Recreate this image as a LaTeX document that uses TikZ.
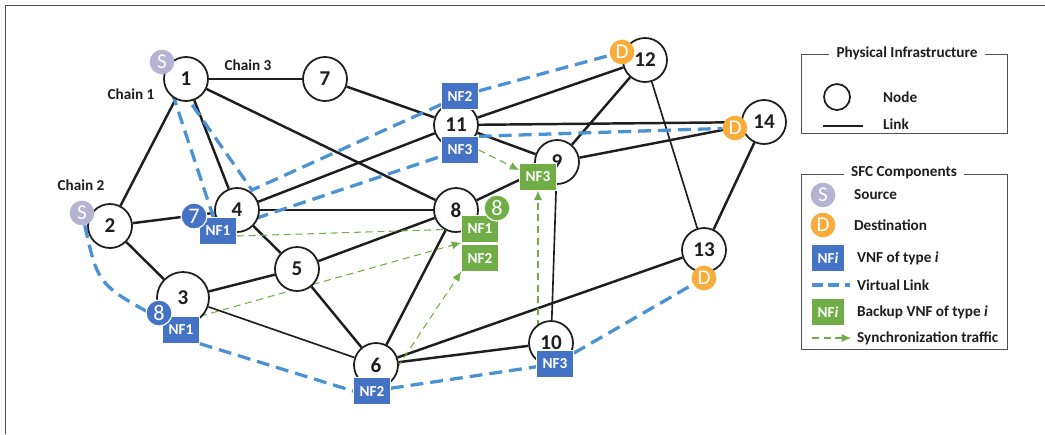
\documentclass[tikz,border=0pt]{standalone}
\usepackage{fontspec}
\setmainfont{Carlito}
\usepackage{xcolor}
\usepackage{tikz}
\usetikzlibrary{arrows.meta}

\definecolor{vnfblue}{RGB}{68,114,196}
\definecolor{bakgreen}{RGB}{112,173,71}
\definecolor{vlinkblue}{RGB}{74,146,212}
\definecolor{srcgray}{RGB}{182,178,210}
\definecolor{dstorange}{RGB}{248,172,58}
\definecolor{framegray}{RGB}{80,80,80}
\definecolor{txtdark}{RGB}{30,30,30}

\pgfdeclarelayer{bg}
\pgfsetlayers{bg,main}

\begin{document}
\begin{tikzpicture}[x=0.03cm, y=-0.03cm,
        phys/.style={circle, draw=txtdark, line width=1.5pt, fill=white, inner sep=0pt, minimum size=1.32cm, text=txtdark, font=\fontsize{18}{18}\selectfont\bfseries},
        link/.style={draw=txtdark, line width=2.1pt},
        thinlink/.style={draw=txtdark, line width=1.4pt},
        vnf/.style={rectangle, fill=vnfblue, draw=white, line width=0.6pt, text=white, inner sep=0pt, minimum width=1.11cm, minimum height=0.8cm, font=\fontsize{13}{13}\selectfont\bfseries},
        bak/.style={vnf, fill=bakgreen},
        src/.style={circle, fill=srcgray, text=white, inner sep=0pt, minimum size=0.74cm, font=\fontsize{18}{18}\selectfont},
        dst/.style={src, fill=dstorange},
        badge/.style={circle, fill=vnfblue, draw=white, line width=1pt, text=white, inner sep=0pt, minimum size=0.78cm, font=\fontsize{19}{19}\selectfont},
        vlink/.style={draw=vlinkblue, line width=2.8pt, dash pattern=on 11pt off 6pt},
        sync/.style={draw=bakgreen, line width=0.9pt, dash pattern=on 6pt off 4pt, -{Latex[length=8pt,width=7pt]}},
        lbl/.style={text=txtdark, font=\fontsize{13}{13}\selectfont\bfseries},
    ]
        \useasboundingbox (0,0) rectangle (1045,434);
        \draw[framegray, line width=0.8pt] (5,434) -- (5,5) -- (1045,5);

        % physical nodes
        \node (n1)  at (186,79)  [phys] {1};
        \node (n2)  at (110,226) [phys] {2};
        \node (n3)  at (183,298) [phys, minimum size=1.56cm] {3};
        \node (n4)  at (237,210) [phys] {4};
        \node (n5)  at (297,269) [phys] {5};
        \node (n6)  at (376,365) [phys] {6};
        \node (n7)  at (325,79)  [phys] {7};
        \node (n8)  at (456,210) [phys] {8};
        \node (n9)  at (557,162) [phys] {9};
        \node (n10) at (551,343) [phys] {10};
        \node (n11) at (456,125) [phys] {11};
        \node (n12) at (645,60)  [phys] {12};
        \node (n13) at (704,250) [phys] {13};
        \node (n14) at (764,122) [phys] {14};

        % sources and destinations
        \node (s1)  at (162,62)  [src] {S};
        \node (s2)  at (82,213)  [src] {S};
        \node (d12) at (622,52)  [dst] {D};
        \node (d14) at (735,128) [dst] {D};
        \node (d13) at (704,278) [dst] {D};

        % VNFs
        \node (nf1at4)  at (218,231) [vnf] {NF1};
        \node (nf1at3)  at (181,330) [vnf] {NF1};
        \node (nf2at6)  at (372,391) [vnf] {NF2};
        \node (nf2at11) at (460,96)  [vnf] {NF2};
        \node (nf3at11) at (460,150) [vnf] {NF3};
        \node (nf3at10) at (555,364) [vnf] {NF3};
        \node (bk1at8)  at (480,229) [bak] {NF1};
        \node (bk2at8)  at (480,258) [bak] {NF2};
        \node (bk3at9)  at (538,177) [bak] {NF3};
        \node (b7)      at (194,216) [badge] {7};
        \node (b8)      at (159,313) [badge] {8};
        \node (g8)      at (497,208) [badge, fill=bakgreen] {8};

        \node (ch1) at (131,94)  [lbl] {Chain 1};
        \node (ch2) at (81,185)  [lbl] {Chain 2};
        \node (ch3) at (248,65)  [lbl] {Chain 3};
        \coordinate (c3) at (252,190);

        \begin{pgfonlayer}{bg}
            % links
            \draw[link]     (n1)  -- (n7);
            \draw[link]     (n1)  -- (n8);
            \draw[link]     (n1)  -- (n4);
            \draw[link]     (n1)  -- (n2);
            \draw[link]     (n2)  -- (n4);
            \draw[link]     (n2)  -- (n3);
            \draw[link]     (n3)  -- (n5);
            \draw[thinlink] (n3)  -- (n6);
            \draw[link]     (n4)  -- (n5);
            \draw[link]     (n4)  -- (n8);
            \draw[link]     (n4)  -- (n11);
            \draw[link]     (n5)  -- (n8);
            \draw[link]     (n5)  -- (n6);
            \draw[link]     (n6)  -- (n8);
            \draw[link]     (n6)  -- (n10);
            \draw[link]     (n6)  -- (n13);
            \draw[link]     (n7)  -- (n11);
            \draw[link]     (n11) -- (n12);
            \draw[link]     (n11) -- (n14);
            \draw[link]     (n11) -- (n9);
            \draw[link]     (n8)  -- (n9);
            \draw[link]     (n9)  -- (n12);
            \draw[link]     (n9)  -- (n14);
            \draw[thinlink] (n9)  -- (n10);
            \draw[thinlink] (n12) -- (n13);
            \draw[link]     (n13) -- (n14);

            % virtual links
            \draw[vlink] (s1) -- (nf1at4);
            \draw[vlink] (nf1at4) -- (nf3at11);
            \draw[vlink] (nf3at11.north east) -- (d14);
            \draw[vlink] (s1) -- (c3) -- (nf2at11);
            \draw[vlink] (nf2at11) -- (d12);
            \draw[vlink] (s2) .. controls (98,285) .. (nf1at3);
            \draw[vlink] (nf1at3.south east) -- (nf2at6.west);
            \draw[vlink] (nf2at6) -- (nf3at10);
            \draw[vlink] (nf3at10) -- (d13);

            % synchronization
            \draw[sync] (nf1at4.-15) -- (bk1at8.west);
            \draw[sync] (nf1at3.north east) -- (bk1at8.south west);
            \draw[sync] (nf2at6.north east) -- (bk2at8.south west);
            \draw[sync] (nf3at11.east) -- (bk3at9.160);
            \draw[sync] (nf3at10.north -| bk3at9.south) -- (bk3at9.south);
        \end{pgfonlayer}

        % legend
        \draw[framegray, line width=0.8pt] (801,54) rectangle (1007,133);
        \node (lgphys) at (907,53) [lbl, fill=white, inner xsep=6pt] {Physical Infrastructure};
        \node (lgnode) at (837,97) [phys, minimum size=0.78cm] {};
        \node (lgnodet) at (879,97) [lbl, anchor=west] {Node};
        \coordinate (lk1) at (823,126);
        \coordinate (lk2) at (863,126);
        \draw[link] (lk1) -- (lk2);
        \node (lglinkt) at (879,124) [lbl, anchor=west] {Link};

        \draw[framegray, line width=0.8pt] (801,174) rectangle (1007,349);
        \node (lgsfc) at (904,173) [lbl, fill=white, inner xsep=6pt] {SFC Components};
        \node (lgsrc)  at (823,195) [src] {S};
        \node (lgsrct) at (850,195) [lbl, anchor=west] {Source};
        \node (lgdst)  at (823,225) [dst] {D};
        \node (lgdstt) at (850,225) [lbl, anchor=west] {Destination};
        \node (lgvnf)  at (828,258) [vnf, minimum width=0.99cm] {NF\textit{i}};
        \node (lgvnft) at (853,258) [lbl, anchor=west] {VNF of type \textit{i}};
        \coordinate (lv1) at (812,285);
        \coordinate (lv2) at (850,285);
        \draw[vlink, dash pattern=on 9pt off 5pt] (lv1) -- (lv2);
        \node (lgvlt)  at (853,285) [lbl, anchor=west] {Virtual Link};
        \node (lgbak)  at (828,312) [bak, minimum width=0.99cm] {NF\textit{i}};
        \node (lgbakt) at (853,312) [lbl, anchor=west] {Backup VNF of type \textit{i}};
        \coordinate (ls1) at (812,338);
        \coordinate (ls2) at (851,338);
        \draw[sync] (ls1) -- (ls2);
        \node (lgsynct) at (853,338) [lbl, anchor=west] {Synchronization traffic};
    \end{tikzpicture}
\end{document}
